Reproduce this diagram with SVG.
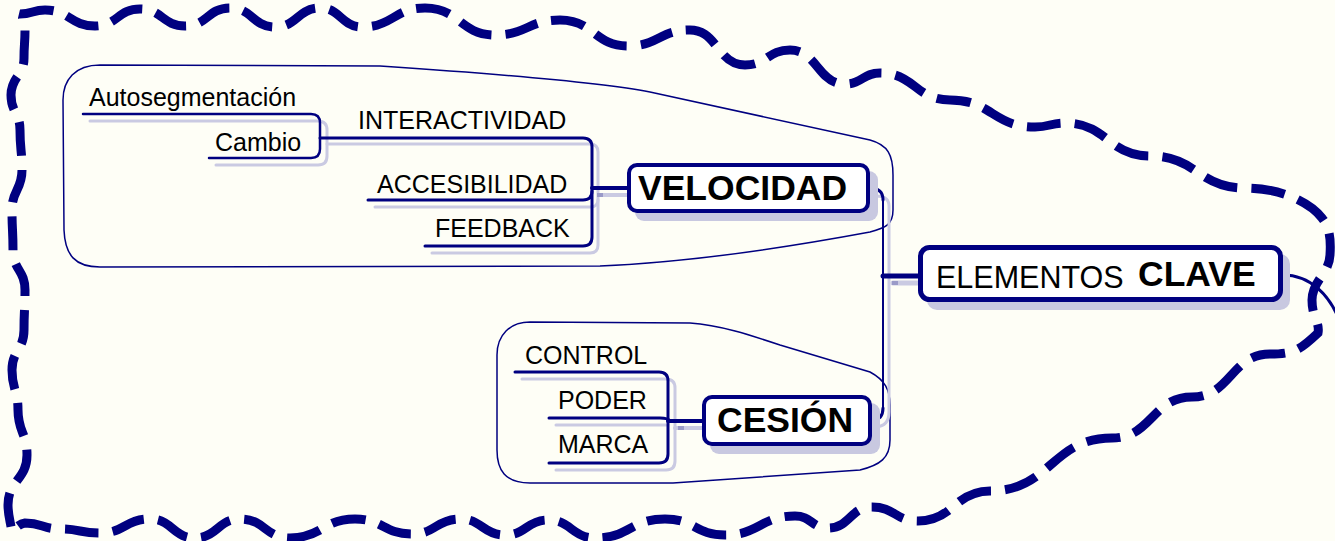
<svg xmlns="http://www.w3.org/2000/svg" width="1335" height="541" viewBox="0 0 1335 541">
<style>
.t{font-family:"Liberation Sans",Arial,sans-serif;fill:#000}
.r{font-size:25px}
.b{font-size:35.5px;font-weight:bold}
.ln{fill:none;stroke:#000080;stroke-linecap:round;stroke-linejoin:round}
.sh{fill:none;stroke:#cacae2;stroke-linecap:round;stroke-linejoin:round}
.box{fill:#fff;stroke:#000080}
.bsh{fill:#c8c8e0}
.encl{fill:none;stroke:#000080;stroke-width:1.5}
</style>
<rect width="1335" height="541" fill="#fefef6"/>

<g id="boundary">
<path fill="none" stroke="#000080" stroke-width="9" stroke-dasharray="34 14" d="M20,14 C32.5,14 32.5,10 45,10 C70,10 70,26 95,26 C117.5,26 117.5,9 140,9 C162.5,9 162.5,26 185,26 C207.5,26 207.5,8 230,8 C252.5,8 252.5,27 275,27 C297.5,27 297.5,8 320,8 C341,8 341,27 362,27 C393.5,27 393.5,8 425,8 C460,8 460,35 495,35 C527.5,35 527.5,20 560,20 C594,20 594,46 628,46 C659,46 659,30 690,30 C717.5,30 717.5,65 745,65 C767.5,65 767.5,50 790,50 C817.5,50 817.5,84 845,84 C862.5,84 862.5,73 880,73 C915,73 915,100 950,100 C992.5,100 992.5,127 1035,127 C1050,127 1050,123 1065,123 C1107.5,123 1107.5,156 1150,156 C1197.5,156 1197.5,188 1245,188 C1285,188 1312,205 1322,218 C1330,228 1331,240 1330,255 C1329,275 1312,280 1312,300 C1312,318 1320,322 1318,333 C1300,350 1294,354 1270,354 C1231,354 1231,397 1192,397 C1152,397 1152,438 1112,438 C1051,438 1051,491 990,491 C954,491 954,521 918,521 C895,521 895,507 872,507 C850,507 850,528 828,528 C811.5,528 811.5,516 795,516 C760,516 760,535 725,535 C695,535 695,519 665,519 C630,519 630,538 595,538 C571.5,538 571.5,520 548,520 C526.5,520 526.5,535 505,535 C482.5,535 482.5,519 460,519 C436,519 436,534 412,534 C383.5,534 383.5,519 355,519 C322.5,519 322.5,538 290,538 C265,538 265,519 240,519 C217.5,519 217.5,538 195,538 C172.5,538 172.5,519 150,519 C125,519 125,533 100,533 C80,533 80,529 60,529 C42.5,529 42.5,523 25,523 C18,524 14,530 12,532 C10,520 8,515 8,505 C8,480 27,480 27,455 C27,432.5 18,432.5 18,410 C18,390 12,390 12,370 C12,350 24,350 24,330 C24,310 25,310 25,290 C25,270 13,270 13,250 C13,230 12,230 12,210 C12,190 22,190 22,170 C22,150 20,150 20,130 C20,112.5 11,112.5 11,95 C11,76.5 24,76.5 24,58 C24,44 25,44 25,30 C25,20 22,15 20,14 Z"/>
</g>

<g id="enclosures">
<path class="encl" d="M100,65 L380,66 C500,74 600,82 650,92 L870,140 C888,145 893,155 893,175 L893,210 C893,225 885,228 870,232 C800,245 700,262 600,266 L100,267 C75,267 65,255 64,230 L63,100 C63,80 75,65 100,65 Z"/>
<path class="encl" d="M530,322 L690,323 C720,325 750,335 780,345 L870,372 C885,380 890,390 890,405 L890,440 C890,458 880,465 860,470 L673,483 L530,483 C505,483 497,470 497,450 L497,355 C497,335 510,322 530,322 Z"/>
</g>

<g id="connectors">
<path class="sh" stroke-width="3" d="M90,121 L318,121 Q327,121 327,130 L327,156 Q327,165 318,165 L216,165"/>
<path class="sh" stroke-width="3" d="M327,144 L590,144 Q598,144 598,152 L598,245 Q598,253 590,253 L432,253"/>
<path class="sh" stroke-width="3" d="M375,207 L590,207 Q598,207 598,200"/>
<path class="sh" stroke-width="4" d="M600,195 L627,195"/>
<path class="sh" stroke-width="3" d="M876,196 Q889,196 889,206 L889,412 Q889,426 876,427"/>
<path class="sh" stroke-width="5" d="M893,283 L918,283"/>
<path class="sh" stroke-width="3" d="M522,379 L666,379 Q675,379 675,388 L675,461 Q675,470 666,470 L556,470"/>
<path class="sh" stroke-width="3" d="M556,425 L666,425"/>
<path class="sh" stroke-width="4" d="M675,428 L702,428"/>
<path fill="#9a9ac8" d="M597,193h6v4h-6z M892,281h6v4h-6z M678,426h6v4h-6z"/>
<path class="ln" stroke-width="2.5" d="M83,114 L311,114 Q320,114 320,123 L320,149 Q320,158 311,158 L209,158"/>
<path class="ln" stroke-width="3" d="M320,138 L583,138 Q592,138 592,147 L592,237 Q592,246 583,246 L425,246"/>
<path class="ln" stroke-width="3" d="M368,200 L583,200 Q592,200 592,191"/>
<path class="ln" stroke-width="4" d="M592,188 L627,188"/>
<path class="ln" stroke-width="3" d="M870,188 Q883,188 883,200"/>
<path class="ln" stroke-width="2" d="M883,198 L883,410"/>
<path class="ln" stroke-width="3" d="M883,408 Q883,420 872,420"/>
<path class="ln" stroke-width="5" d="M883,276 L918,276"/>
<path class="ln" stroke-width="3" d="M1283,275 C1310,275 1330,295 1340,322"/>
<path class="ln" stroke-width="3" d="M515,372 L659,372 Q668,372 668,381 L668,454 Q668,463 659,463 L549,463"/>
<path class="ln" stroke-width="3" d="M549,418 L660,418 Q668,418 670,421"/>
<path class="ln" stroke-width="4" d="M668,421 L702,421"/>
</g>

<g id="node-elementos">
<rect class="bsh" x="927" y="254" width="363" height="56" rx="10"/>
<rect class="box" x="920.5" y="247.5" width="360" height="52" rx="9" stroke-width="5"/>
<text class="t" x="936" y="288" font-size="30.5">ELEMENTOS</text>
<text class="t b" x="1138" y="286">CLAVE</text>
</g>

<g id="node-velocidad">
<rect class="bsh" x="635" y="171" width="243" height="50" rx="9"/>
<rect class="box" x="629" y="165" width="239" height="46" rx="8" stroke-width="4"/>
<text class="t b" x="638" y="200">VELOCIDAD</text>
</g>

<g id="node-cesion">
<rect class="bsh" x="710" y="403" width="170" height="51" rx="9"/>
<rect class="box" x="704" y="397" width="166" height="47" rx="8" stroke-width="4"/>
<text class="t b" x="717" y="432">CESIÓN</text>
</g>

<g id="node-autosegmentacion"><text class="t r" x="89" y="106">Autosegmentación</text></g>
<g id="node-cambio"><text class="t r" x="215" y="151">Cambio</text></g>
<g id="node-interactividad"><text class="t r" x="358" y="129">INTERACTIVIDAD</text></g>
<g id="node-accesibilidad"><text class="t r" x="377" y="193">ACCESIBILIDAD</text></g>
<g id="node-feedback"><text class="t r" x="435" y="237">FEEDBACK</text></g>
<g id="node-control"><text class="t r" x="525" y="364">CONTROL</text></g>
<g id="node-poder"><text class="t r" x="558" y="409">PODER</text></g>
<g id="node-marca"><text class="t r" x="558" y="453">MARCA</text></g>
</svg>
